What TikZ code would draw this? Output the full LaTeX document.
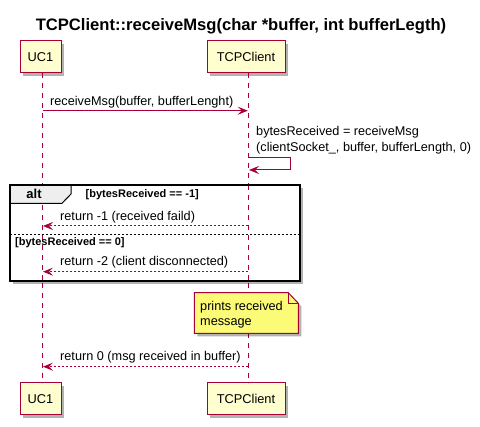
\documentclass[tikz,border=0pt]{standalone}
\usepackage{fontspec}
\setmainfont{Liberation Sans}
\usetikzlibrary{arrows.meta,shadows}
\definecolor{puRed}{HTML}{A80036}
\definecolor{puFill}{HTML}{FEFECE}
\definecolor{puNote}{HTML}{FBFB77}
\definecolor{puTab}{HTML}{EEEEEE}
\begin{document}
\begin{tikzpicture}[x=1pt,y=-1pt,
  shad/.style={drop shadow={shadow xshift=3pt,shadow yshift=-3pt,opacity=0.3,fill=black}},
  part/.style={draw=puRed, fill=puFill, line width=1pt, minimum height=32pt, inner sep=0pt,
    font=\fontsize{12.8}{15}\selectfont, shad},
  life/.style={puRed, line width=0.8pt, dash pattern=on 5pt off 5pt},
  msg/.style={puRed, line width=1pt, -{Stealth[length=10pt,width=8pt,inset=4pt]}},
  ret/.style={msg, dash pattern=on 2pt off 2pt},
  lbl/.style={font=\fontsize{12.7}{15}\selectfont, anchor=base west, inner sep=0pt},
  guard/.style={font=\bfseries\fontsize{11}{13}\selectfont, anchor=base west, inner sep=0pt},
]
\useasboundingbox[fill=white] (0,0) rectangle (480,427);

% title
\node[font=\bfseries\fontsize{16.6}{19}\selectfont, anchor=base, inner sep=0pt] (title) at (241,30.5)
  {TCPClient::receiveMsg(char *buffer, int bufferLegth)};

% participants
\node[part, minimum width=41pt] (uc1top) at (40.5,57) {UC1};
\node[part, minimum width=78pt] (tcptop) at (246,57) {TCPClient};
\node[part, minimum width=41pt] (uc1bot) at (40.5,399) {UC1};
\node[part, minimum width=78pt] (tcpbot) at (246,399) {TCPClient};

% lifeline coordinates
\coordinate (L1t) at (42.5,73);
\coordinate (L1b) at (42.5,383);
\coordinate (L2t) at (248.3,73);
\coordinate (L2b) at (248.3,383);
\draw[life] (L1t) -- (L1b);
\draw[life] (L2t) -- (L2b);

% message 1
\coordinate (m1a) at (42.5,110.7);
\coordinate (m1b) at (247.8,110.7);
\draw[msg] (m1a) -- (m1b);
\node[lbl] (m1l) at (50,106) {receiveMsg(buffer, bufferLenght)};

% self message
\coordinate (s1) at (248.3,157.3);
\coordinate (s2) at (290.7,157.3);
\coordinate (s3) at (290.7,170);
\coordinate (s4) at (249,170);
\draw[msg] (s1) -- (s2) -- (s3) -- (s4);
\node[lbl] (s1l) at (256,136) {bytesReceived = receiveMsg};
\node[lbl] (s2l) at (256,151.5) {(clientSocket\_, buffer, bufferLength, 0)};

% alt frame
\fill[black, opacity=0.3] (13,188) rectangle (303,284);
\fill[white] (10,185) rectangle (300,281);
\draw[life] (42.5,185) -- (42.5,281);
\draw[life] (248.3,185) -- (248.3,281);
\draw[line width=1pt, fill=puTab] (10,185) -- (71,185) -- (71,194) -- (62,203.3) -- (10,203.3) -- cycle;
\draw[line width=1.6pt] (10,185) rectangle (300,281);
\node[font=\bfseries\fontsize{13}{15}\selectfont, anchor=base, inner sep=0pt] (altl) at (34,199) {alt};
\node[guard] (g1) at (85.5,198) {[bytesReceived == -1]};

\coordinate (r1a) at (248.3,226);
\coordinate (r1b) at (43,226);
\draw[ret] (r1a) -- (r1b);
\node[lbl] (r1l) at (60,220.5) {return -1 (received faild)};

\coordinate (sepa) at (10,234.3);
\coordinate (sepb) at (300,234.3);
\draw[line width=0.8pt, dash pattern=on 2pt off 2pt] (sepa) -- (sepb);
\node[guard] (g2) at (15,245.7) {[bytesReceived == 0]};

\coordinate (r2a) at (248.3,271.7);
\coordinate (r2b) at (43,271.7);
\draw[ret] (r2a) -- (r2b);
\node[lbl] (r2l) at (60,266) {return -2 (client disconnected)};

% note
\fill[black, opacity=0.3] (197.3,295.7) -- (291.3,295.7) -- (301.3,306.3) -- (301.3,336.3) -- (197.3,336.3) -- cycle;
\draw[puRed, line width=1pt, fill=puNote] (194.3,292.7) -- (288.3,292.7) -- (298.3,303.3) -- (298.3,333.3) -- (194.3,333.3) -- cycle;
\draw[puRed, line width=1pt] (288.3,292.7) -- (288.3,303.3) -- (298.3,303.3);
\node[lbl] (n1) at (200,310.7) {prints received};
\node[lbl] (n2) at (200,326) {message};

% return 0
\coordinate (r3a) at (248.3,366.7);
\coordinate (r3b) at (43,366.7);
\draw[ret] (r3a) -- (r3b);
\node[lbl] (r3l) at (60,361) {return 0 (msg received in buffer)};
\end{tikzpicture}
\end{document}
